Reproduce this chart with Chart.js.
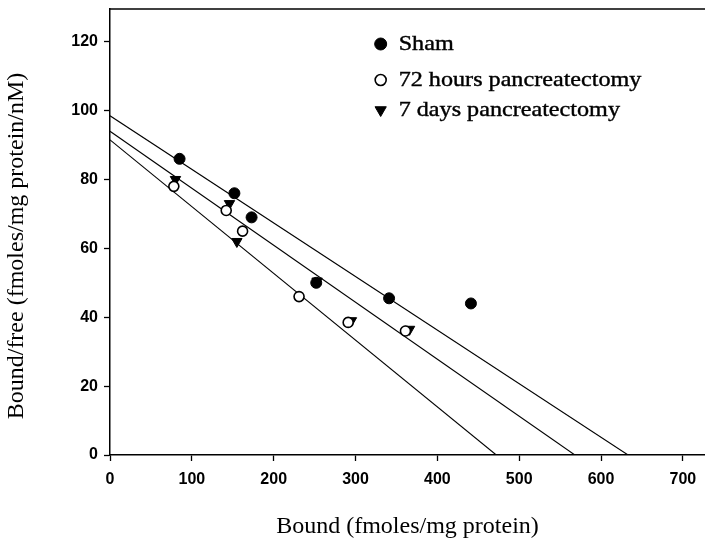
<!DOCTYPE html>
<html>
<head>
<meta charset="utf-8">
<script src="https://cdn.jsdelivr.net/npm/chart.js@4/dist/chart.umd.min.js"></script>
<style>
  html, body { margin: 0; padding: 0; background: #fff; }
  #wrap { width: 705px; height: 544px; }
</style>
</head>
<body>
<div id="wrap"><canvas id="scatchard"></canvas></div>
<script>
// Scatchard plot: bound vs bound/free for the three groups
const shamBound = [85, 152, 173, 252, 341, 441];
const shamRatio = [86, 76, 69, 50, 45.5, 44];

const h72Bound = [78, 142, 162, 231, 291, 361];
const h72Ratio = [78, 71, 65, 46, 38.5, 36];

const d7Bound = [80, 146, 155, 253, 295, 366];
const d7Ratio = [80, 73, 62, 50.5, 39, 36.5];

// regression lines: [y-intercept, x-intercept]
const fitLines = [
  [98.5, 633],
  [94, 568],
  [91.5, 472],
];

const xTicks = [0, 100, 200, 300, 400, 500, 600, 700];
const yTicks = [0, 20, 40, 60, 80, 100, 120];

const xTitle = "Bound (fmoles/mg protein)";
const yTitle = "Bound/free (fmoles/mg protein/nM)";

const toPoints = (xs, ys) => xs.map((x, i) => ({ x: x, y: ys[i] }));

const serif = "'Liberation Serif', 'Times New Roman', serif";
const sans = "'Liberation Sans', Arial, sans-serif";

let datasets = [
  {
    label: "Sham",
    data: toPoints(shamBound, shamRatio),
    pointStyle: "circle",
    pointRadius: 5.5,
    backgroundColor: "#000",
    borderColor: "#000",
    borderWidth: 1,
  },
  {
    label: "72 hours pancreatectomy",
    data: toPoints(h72Bound, h72Ratio),
    pointStyle: "circle",
    pointRadius: 5,
    backgroundColor: "#fff",
    borderColor: "#000",
    borderWidth: 1.6,
  },
  {
    label: "7 days pancreatectomy",
    data: toPoints(d7Bound, d7Ratio),
    pointStyle: "triangle",
    rotation: 180,
    pointRadius: 6,
    backgroundColor: "#000",
    borderColor: "#000",
    borderWidth: 1,
  },
];

fitLines.forEach((line) => {
  datasets.push({
    label: "",
    data: [
      { x: 0, y: line[0] },
      { x: line[1], y: 0 },
    ],
    showLine: true,
    pointRadius: 0,
    borderColor: "#000",
    borderWidth: 1.1,
    fill: false,
  });
});

// legend rows sit inside the plot, under the top frame
function legendRows(area) {
  return {
    x: area.left + 0.465 * (area.right - area.left),
    ys: [area.top + 35, area.top + 71, area.top + 101],
  };
}

const innerLegend = {
  id: "innerLegend",
  afterDraw(chart) {
    const ctx = chart.ctx;
    const pos = legendRows(chart.chartArea);
    for (let i = 0; i < 3; i++) {
      const ds = chart.data.datasets[i];
      ctx.save();
      ctx.fillStyle = ds.backgroundColor;
      ctx.strokeStyle = ds.borderColor;
      ctx.lineWidth = ds.borderWidth;
      Chart.helpers.drawPoint(
        ctx,
        {
          pointStyle: ds.pointStyle,
          radius: ds.pointRadius + 0.5,
          rotation: ds.rotation || 0,
          borderWidth: ds.borderWidth,
        },
        pos.x - 6,
        pos.ys[i]
      );
      ctx.restore();

      ctx.save();
      ctx.fillStyle = "#000";
      ctx.strokeStyle = "#000";
      ctx.lineWidth = 0.4;
      ctx.font = "21px " + serif;
      ctx.textBaseline = "middle";
      ctx.translate(pos.x + 12, pos.ys[i]);
      ctx.scale(1.15, 1);
      ctx.fillText(ds.label, 0, 0);
      ctx.strokeText(ds.label, 0, 0);
      ctx.restore();
    }
  },
};

// top frame line and the rotated y title (sits a little below centre)
const frameAndTitle = {
  id: "frameAndTitle",
  afterDraw(chart) {
    const ctx = chart.ctx;
    const area = chart.chartArea;
    ctx.save();
    ctx.strokeStyle = "#000";
    ctx.lineWidth = 1.5;
    ctx.beginPath();
    ctx.moveTo(area.left, area.top);
    ctx.lineTo(chart.width, area.top);
    ctx.stroke();

    ctx.translate(17, (area.top + area.bottom) / 2 + 14);
    ctx.rotate(-Math.PI / 2);
    ctx.fillStyle = "#000";
    ctx.font = "24px " + serif;
    ctx.textAlign = "center";
    ctx.textBaseline = "middle";
    ctx.fillText(yTitle, 0, 0);
    ctx.restore();
  },
};

Chart.defaults.font.family = sans;
Chart.defaults.color = "#000";

new Chart(document.getElementById("scatchard"), {
  type: "scatter",
  data: { datasets: datasets },
  options: {
    responsive: true,
    maintainAspectRatio: false,
    animation: false,
    layout: {
      autoPadding: false,
      padding: { top: 9, right: 0, left: 0, bottom: 0 },
    },
    plugins: {
      legend: { display: false },
      tooltip: { enabled: false },
    },
    scales: {
      x: {
        type: "linear",
        min: 0,
        max: 727,
        afterBuildTicks: (scale) => {
          scale.ticks = xTicks.map((v) => ({ value: v }));
        },
        afterFit: (scale) => {
          scale.height = 89;
          scale.paddingRight = 0;
        },
        ticks: {
          font: { size: 16, weight: "bold" },
          padding: 9,
          maxRotation: 0,
        },
        grid: {
          drawOnChartArea: false,
          color: "#000",
          tickLength: 6,
          tickWidth: 1.3,
        },
        border: { display: true, color: "#000", width: 1.5 },
        title: {
          display: true,
          text: xTitle,
          font: { family: serif, size: 24 },
          padding: { top: 0, bottom: 3 },
        },
      },
      y: {
        type: "linear",
        min: 0,
        max: 129.5,
        afterBuildTicks: (scale) => {
          scale.ticks = yTicks.map((v) => ({ value: v }));
        },
        afterFit: (scale) => {
          scale.width = 110;
          scale.paddingTop = 0;
          scale.paddingBottom = 0;
        },
        ticks: {
          font: { size: 16, weight: "bold" },
          padding: 6,
        },
        grid: {
          drawOnChartArea: false,
          color: "#000",
          tickLength: 6,
          tickWidth: 1.3,
        },
        border: { display: true, color: "#000", width: 1.5 },
      },
    },
  },
  plugins: [frameAndTitle, innerLegend],
});
</script>
</body>
</html>
